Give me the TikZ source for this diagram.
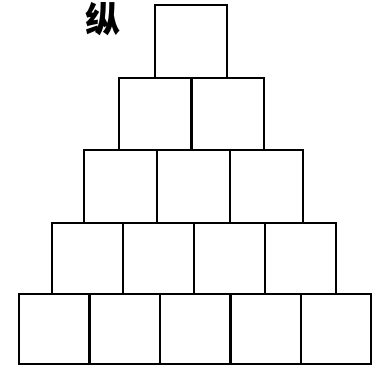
\documentclass[tikz,border=0pt]{standalone}
\usepackage{fontspec}
\newfontfamily\cjk{Noto Sans CJK SC}
\usepackage{tikz}
\usetikzlibrary{positioning}
\tikzset{
  cell/.style={rectangle, draw=black, line width=1.4pt, inner sep=0pt,
               anchor=north west},
  glyph/.style={font=\cjk\bfseries\fontsize{20}{20}\selectfont, inner sep=0pt},
}

\begin{document}
\begin{tikzpicture}[x=0.02cm,y=-0.02cm]
  \useasboundingbox (0,0) rectangle (383,372);
  % label
  \node[glyph] (lbl) at (103,19) {纵};
  % rows of the pyramid: row/left/top/width/height
  \foreach \r/\xl/\yt/\w/\h in {1/154/4/72/73, 2/118/77/72.5/72,
                                3/83/149/73/73, 4/51/222/71/71,
                                5/18/293/70.4/70}
    \foreach \c in {1,...,\r}
      \node[cell, minimum width=\w*0.02cm, minimum height=\h*0.02cm]
           (b\r\c) at ({\xl+(\c-1)*\w},\yt) {};
\end{tikzpicture}
\end{document}
